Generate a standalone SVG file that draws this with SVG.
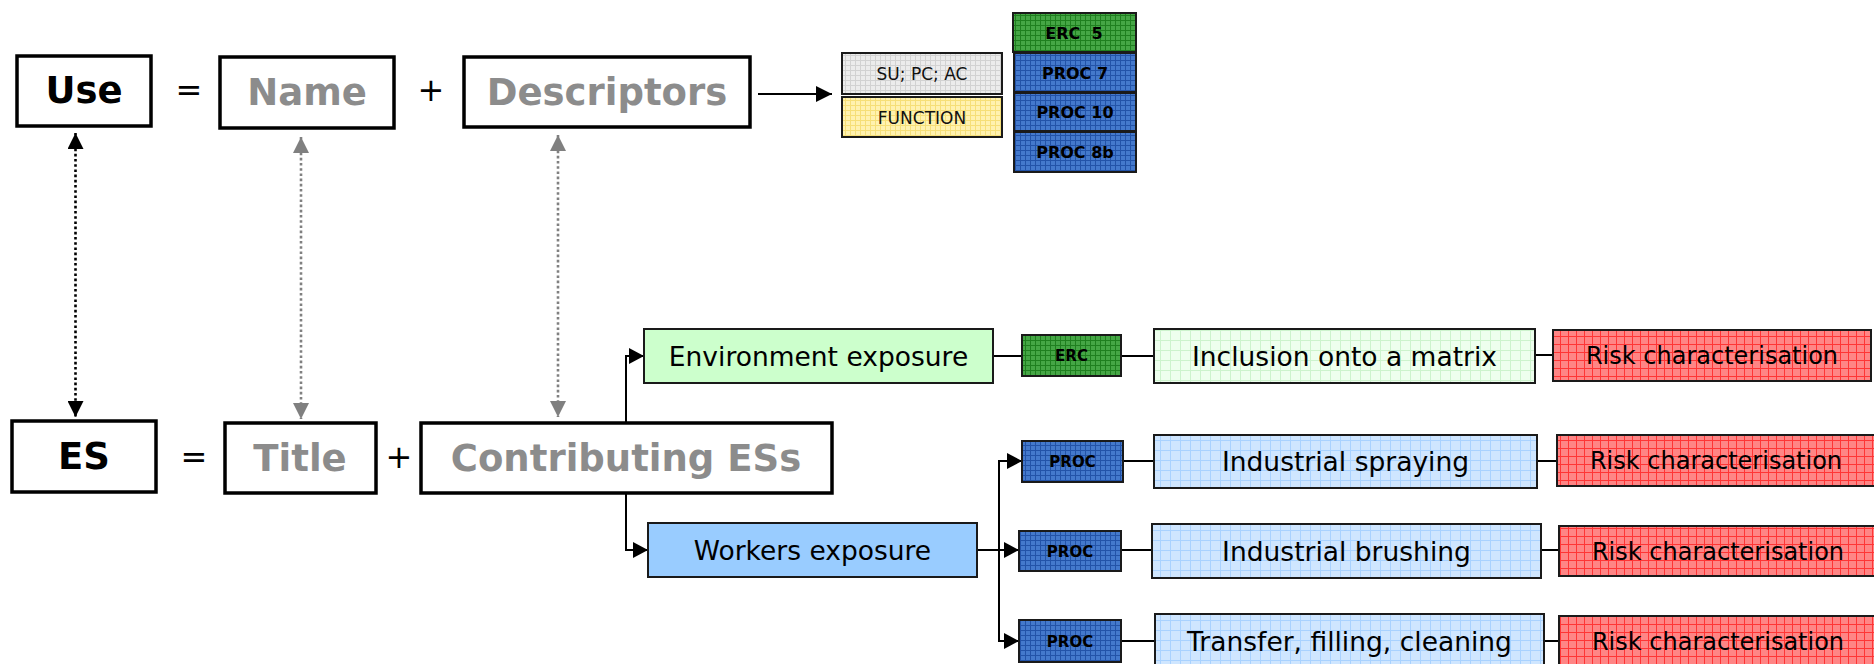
<svg xmlns="http://www.w3.org/2000/svg" width="1874" height="664" viewBox="0 0 1874 664">
<style>
text{font-family:"DejaVu Sans",Verdana,sans-serif;text-anchor:middle}
.big{font-size:37px;font-weight:bold}
.blk{fill:#000}
.gry{fill:#8c8c8c}
.op{font-size:32px;fill:#000}
.mid{font-size:26.5px;fill:#000}
.risk{font-size:24px;fill:#000}
.sm{font-size:15px;font-weight:bold;fill:#000}
.sm2{font-size:16px;font-weight:bold;fill:#000}
.tag{font-size:17px;fill:#111}
.main{fill:#fff;stroke:#000;stroke-width:3.5}
.bx{stroke:#1a1a1a;stroke-width:2}
.ln{fill:none;stroke:#000;stroke-width:2}
.dotk{fill:none;stroke:#000;stroke-width:2.6;stroke-dasharray:2.6 2.6}
.dotg{fill:none;stroke:#808080;stroke-width:2.6;stroke-dasharray:2.6 2.6}
</style>
<defs>
<marker id="ak" markerUnits="userSpaceOnUse" markerWidth="16" markerHeight="16" refX="16" refY="8" orient="auto-start-reverse"><path d="M0,0 L16,8 L0,16 z" fill="#000"/></marker>
<marker id="ag" markerUnits="userSpaceOnUse" markerWidth="16" markerHeight="16" refX="16" refY="8" orient="auto-start-reverse"><path d="M0,0 L16,8 L0,16 z" fill="#808080"/></marker>
<marker id="as" markerUnits="userSpaceOnUse" markerWidth="15" markerHeight="16" refX="15" refY="8" orient="auto"><path d="M0,0 L15,8 L0,16 z" fill="#000"/></marker>
<pattern id="pRed" width="8" height="8" patternUnits="userSpaceOnUse"><rect width="8" height="8" fill="#ff8585"/><path d="M0,0.5H8M0.5,0V8" stroke="#ff3535" stroke-width="1"/></pattern>
<pattern id="pBlue" width="10" height="10" patternUnits="userSpaceOnUse"><rect width="10" height="10" fill="#cfe6ff"/><path d="M0,0.5H10M0.5,0V10" stroke="#a9d2ff" stroke-width="1"/></pattern>
<pattern id="pGreen" width="10" height="10" patternUnits="userSpaceOnUse"><rect width="10" height="10" fill="#eeffee"/><path d="M0,0.5H10M0.5,0V10" stroke="#cdf3cd" stroke-width="1"/></pattern>
<pattern id="pErc" width="5" height="5" patternUnits="userSpaceOnUse"><rect width="5" height="5" fill="#45a645"/><path d="M0,0.5H5M0.5,0V5" stroke="#1f7f1f" stroke-width="1"/></pattern>
<pattern id="pProc" width="5" height="5" patternUnits="userSpaceOnUse"><rect width="5" height="5" fill="#4479cc"/><path d="M0,0.5H5M0.5,0V5" stroke="#2353a8" stroke-width="1"/></pattern>
<pattern id="pGray" width="5" height="5" patternUnits="userSpaceOnUse"><rect width="5" height="5" fill="#ececec"/><path d="M0,0.5H5M0.5,0V5" stroke="#d2d2d2" stroke-width="1"/></pattern>
<pattern id="pYel" width="5" height="5" patternUnits="userSpaceOnUse"><rect width="5" height="5" fill="#fff2b0"/><path d="M0,0.5H5M0.5,0V5" stroke="#f6df78" stroke-width="1"/></pattern>
</defs>

<g id="connectors">
<line class="dotk" x1="75.5" y1="133" x2="75.5" y2="417" marker-start="url(#ak)" marker-end="url(#ak)"/>
<line class="dotg" x1="301" y1="137" x2="301" y2="419" marker-start="url(#ag)" marker-end="url(#ag)"/>
<line class="dotg" x1="558" y1="135" x2="558" y2="417" marker-start="url(#ag)" marker-end="url(#ag)"/>
<line class="ln" x1="758" y1="94" x2="832" y2="94" marker-end="url(#ak)"/>
<path class="ln" d="M626,423 V356 H644" marker-end="url(#as)"/>
<path class="ln" d="M626,493 V550 H648" marker-end="url(#as)"/>
<line class="ln" x1="993" y1="356" x2="1022" y2="356"/>
<line class="ln" x1="1121" y1="356" x2="1154" y2="356"/>
<line class="ln" x1="1535" y1="355" x2="1553" y2="355"/>
<line class="ln" x1="977" y1="550" x2="1019" y2="550" marker-end="url(#as)"/>
<path class="ln" d="M1022,461 H999 V641 H1019" marker-end="url(#as)"/>
<path class="ln" d="M999,461 H1022" marker-end="url(#as)"/>
<line class="ln" x1="1123" y1="461" x2="1154" y2="461"/>
<line class="ln" x1="1537" y1="461" x2="1557" y2="461"/>
<line class="ln" x1="1121" y1="550" x2="1152" y2="550"/>
<line class="ln" x1="1541" y1="550" x2="1559" y2="550"/>
<line class="ln" x1="1121" y1="641" x2="1155" y2="641"/>
<line class="ln" x1="1544" y1="641" x2="1559" y2="641"/>
</g>

<g id="use"><rect class="main" x="17" y="56" width="134" height="70"/><text class="big blk" x="84" y="103">Use</text></g>
<text class="op" x="189" y="101">=</text>
<g id="name"><rect class="main" x="220" y="57" width="174" height="71"/><text class="big gry" x="307" y="105">Name</text></g>
<text class="op" x="431" y="101">+</text>
<g id="descriptors"><rect class="main" x="464" y="57" width="286" height="70"/><text class="big gry" x="607" y="105">Descriptors</text></g>

<g id="su"><rect class="bx" x="842" y="53" width="160" height="41" fill="url(#pGray)"/><text class="tag" x="922" y="79.5">SU; PC; AC</text></g>
<g id="function"><rect class="bx" x="842" y="97" width="160" height="40" fill="url(#pYel)"/><text class="tag" x="922" y="123.5">FUNCTION</text></g>
<g id="erc5"><rect class="bx" x="1013" y="13" width="123" height="39" fill="url(#pErc)"/><text class="sm2" x="1074" y="38.5" xml:space="preserve">ERC  5</text></g>
<g id="proc7"><rect class="bx" x="1014" y="53" width="122" height="39" fill="url(#pProc)"/><text class="sm2" x="1075" y="78.5">PROC 7</text></g>
<g id="proc10"><rect class="bx" x="1014" y="93" width="122" height="38" fill="url(#pProc)"/><text class="sm2" x="1075" y="118">PROC 10</text></g>
<g id="proc8b"><rect class="bx" x="1014" y="132" width="122" height="40" fill="url(#pProc)"/><text class="sm2" x="1075" y="158">PROC 8b</text></g>

<g id="es"><rect class="main" x="12" y="421" width="144" height="71"/><text class="big blk" x="84" y="469">ES</text></g>
<text class="op" x="194" y="468">=</text>
<g id="title"><rect class="main" x="225" y="423" width="151" height="70"/><text class="big gry" x="300" y="471">Title</text></g>
<text class="op" x="399" y="468">+</text>
<g id="contributing"><rect class="main" x="421" y="423" width="411" height="70"/><text class="big gry" x="626" y="471">Contributing ESs</text></g>

<g id="env"><rect class="bx" x="644" y="329" width="349" height="54" fill="#ccffcc"/><text class="mid" x="818.5" y="366">Environment exposure</text></g>
<g id="workers"><rect class="bx" x="648" y="523" width="329" height="54" fill="#99ccff"/><text class="mid" x="812.5" y="560">Workers exposure</text></g>

<g id="erc"><rect class="bx" x="1022" y="335" width="99" height="41" fill="url(#pErc)"/><text class="sm" x="1071.5" y="361">ERC</text></g>
<g id="proc-a"><rect class="bx" x="1022" y="441" width="101" height="41" fill="url(#pProc)"/><text class="sm" x="1072.5" y="467">PROC</text></g>
<g id="proc-b"><rect class="bx" x="1019" y="531" width="102" height="40" fill="url(#pProc)"/><text class="sm" x="1070" y="556.5">PROC</text></g>
<g id="proc-c"><rect class="bx" x="1019" y="620" width="102" height="42" fill="url(#pProc)"/><text class="sm" x="1070" y="646.5">PROC</text></g>

<g id="inclusion"><rect class="bx" x="1154" y="329" width="381" height="54" fill="url(#pGreen)"/><text class="mid" x="1344.5" y="366">Inclusion onto a matrix</text></g>
<g id="spraying"><rect class="bx" x="1154" y="435" width="383" height="53" fill="url(#pBlue)"/><text class="mid" x="1345.5" y="471">Industrial spraying</text></g>
<g id="brushing"><rect class="bx" x="1152" y="524" width="389" height="54" fill="url(#pBlue)"/><text class="mid" x="1346.5" y="561">Industrial brushing</text></g>
<g id="transfer"><rect class="bx" x="1155" y="614" width="389" height="60" fill="url(#pBlue)"/><text class="mid" x="1349.5" y="651">Transfer, filling, cleaning</text></g>

<g id="risk1"><rect class="bx" x="1553" y="330" width="318" height="51" fill="url(#pRed)"/><text class="risk" x="1712" y="364">Risk characterisation</text></g>
<g id="risk2"><rect class="bx" x="1557" y="435" width="318" height="51" fill="url(#pRed)"/><text class="risk" x="1716" y="469">Risk characterisation</text></g>
<g id="risk3"><rect class="bx" x="1559" y="526" width="318" height="50" fill="url(#pRed)"/><text class="risk" x="1718" y="560">Risk characterisation</text></g>
<g id="risk4"><rect class="bx" x="1559" y="616" width="318" height="58" fill="url(#pRed)"/><text class="risk" x="1718" y="650">Risk characterisation</text></g>
</svg>
